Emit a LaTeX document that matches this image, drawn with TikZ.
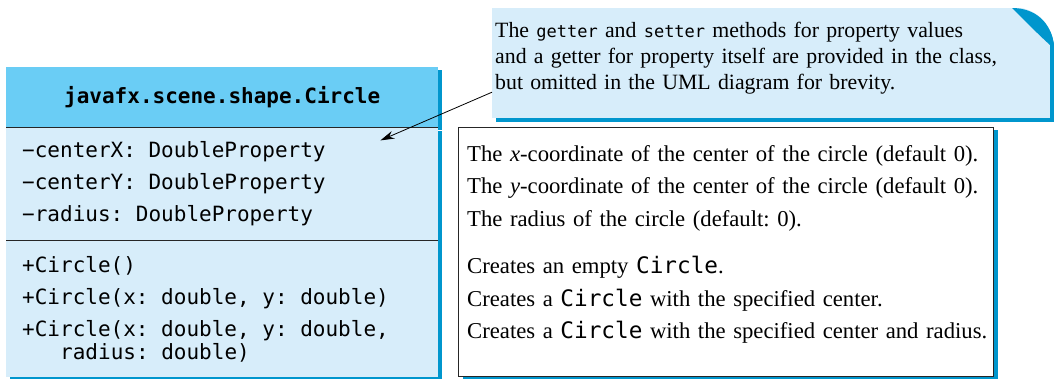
\documentclass[tikz,border=0pt]{standalone}
\usepackage{fontspec}
\setmainfont{Liberation Serif}
\newfontfamily\umlmono{DejaVu Sans Mono}
\usetikzlibrary{arrows.meta,positioning,shadows}
\definecolor{headblue}{RGB}{106,205,245}
\definecolor{bodyblue}{RGB}{215,237,250}
\definecolor{shadeblue}{RGB}{0,150,205}
\newcommand{\code}[1]{{\umlmono #1}}
\newcommand{\smallcode}[1]{{\umlmono\fontsize{17}{17}\selectfont #1}}
\frenchspacing

\begin{document}
\begin{tikzpicture}[
  x=1pt, y=1pt,
  node distance=0pt,
  classpart/.style={
    fill=bodyblue,
    text width=400pt,
    inner xsep=16pt,
    inner ysep=0pt,
    align=left,
    font=\umlmono\fontsize{21}{32}\selectfont,
    execute at begin node={\spaceskip=12.64pt\relax},
    general shadow={fill=shadeblue, shadow xshift=4pt, shadow yshift=-3pt}
  },
  classhead/.style={
    classpart,
    fill=headblue,
    minimum height=60pt,
    align=center,
    font=\umlmono\bfseries\fontsize{21}{25}\selectfont
  },
  sepline/.style={line width=1.2pt, draw=black!85},
  descbox/.style={
    draw=black!85,
    line width=1.2pt,
    fill=white,
    minimum width=535pt,
    minimum height=249pt,
    general shadow={fill=shadeblue, shadow xshift=4pt, shadow yshift=-2pt}
  },
  notebox/.style={
    fill=bodyblue,
    minimum width=558pt,
    minimum height=110pt,
    general shadow={fill=shadeblue, shadow xshift=4pt, shadow yshift=-4pt}
  },
  infotext/.style={
    text width=580pt,
    inner sep=0pt,
    align=left,
    font=\fontsize{22.7}{32.5}\selectfont
  },
  pointer/.style={-{Stealth[length=14pt,width=8pt]}, line width=0.8pt}
]
\useasboundingbox (0,0) rectangle (1054,-378);

% the class box
\node[classhead, anchor=north west] (head) at (6,-67) {javafx.scene.shape.Circle};
\node[classpart, minimum height=113pt, below=of head] (attrs) {%
  −centerX: DoubleProperty\\
  −centerY: DoubleProperty\\
  −radius: DoubleProperty};
\node[classpart, minimum height=136pt, below=of attrs] (meths) {%
  +Circle()\\
  +Circle(x: double, y: double)\\
  +Circle(x: double, y: double,\\[-9pt]
  \hspace*{38pt}radius: double)};
\draw[sepline] (head.south west) -- (head.south east);
\draw[sepline] (attrs.south west) -- (attrs.south east);

% descriptions
\node[descbox, anchor=north west] (desc) at (458,-127) {};
\node[infotext, anchor=base west] (descinfo) at (467,-161) {%
  The \textit{x}-coordinate of the center of the circle (default 0).\\
  The \textit{y}-coordinate of the center of the circle (default 0).\\
  The radius of the circle (default: 0).\\[15pt]
  Creates an empty \code{Circle}.\\
  Creates a \code{Circle} with the specified center.\\
  Creates a \code{Circle} with the specified center and radius.};

% the note
\node[notebox, anchor=north west] (callout) at (492,-8) {};
\fill[white] (1012,-7) .. controls (1035,-7) and (1051,-22) .. (1054,-45)
  -- (1058,-45) -- (1058,-4) -- (1012,-4) -- cycle;
\fill[shadeblue] (1012,-8) .. controls (1035,-8) and (1051,-22) .. (1054,-45)
  -- (1050,-45) .. controls (1040,-36) and (1026,-22) .. (1012,-8) -- cycle;
\node[infotext, anchor=base west, font=\fontsize{21.8}{26}\selectfont] (note) at (495,-37) {%
  The \smallcode{getter} and \smallcode{setter} methods for property values\\
  and a getter for property itself are provided in the class,\\
  but omitted in the UML diagram for brevity.};

\coordinate (tip) at ([xshift=-58pt,yshift=-13pt]attrs.north east);
\draw[pointer] ([yshift=-29pt]callout.west) -- (tip);
\end{tikzpicture}
\end{document}
